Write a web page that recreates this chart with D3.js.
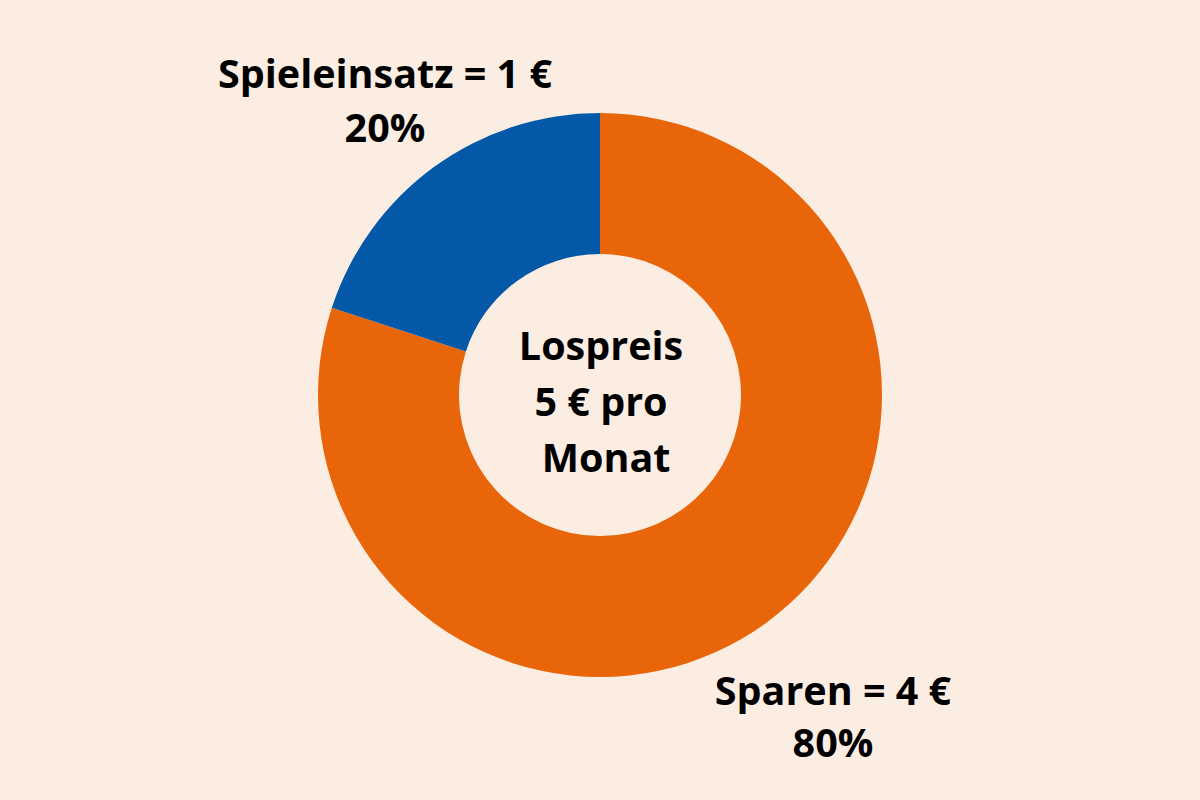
<!DOCTYPE html>
<html><head><meta charset="utf-8">
<script src="https://cdn.jsdelivr.net/npm/d3@7"></script>
<style>html,body{margin:0;padding:0;background:#fcede3;}svg{display:block;}</style>
</head><body>
<script>
const categories = ["Spieleinsatz", "Sparen"];
const values = [1, 4];
const percents = ["20%", "80%"];
const centerLines = ["Lospreis", "5 € pro", " Monat"];
const colors = ["#0359a7", "#e9650a"];

const W = 1200, H = 800;
const svg = d3.select("body").append("svg").attr("width", W).attr("height", H);
svg.append("rect").attr("width", W).attr("height", H).attr("fill", "#fcede3");

const cx = 600, cy = 395, rOuter = 282, rInner = 141;
const pie = d3.pie().sort(null).value(d => d.v).startAngle(0).endAngle(2 * Math.PI);
const data = [{c: categories[1], v: values[1], col: colors[1]}, {c: categories[0], v: values[0], col: colors[0]}];
const arc = d3.arc().innerRadius(rInner).outerRadius(rOuter);
const g = svg.append("g").attr("transform", `translate(${cx},${cy})`);
g.selectAll("path").data(pie(data)).join("path").attr("d", arc).attr("fill", d => d.data.col);

const font = "'Open Sans', sans-serif";
function lines(x, y0, arr, dy) {
  const t = svg.append("text").attr("text-anchor", "middle").attr("font-family", font)
    .attr("font-weight", 700).attr("font-size", 39.5).attr("fill", "#000").attr("xml:space", "preserve");
  arr.forEach((s, i) => t.append("tspan").attr("x", x).attr("y", y0 + i * dy).text(s));
}
lines(385, 88, [categories[0] + " = " + values[0] + " €", percents[0]], 54);
lines(833, 705, [categories[1] + " = " + values[1] + " €", percents[1]], 52);
lines(601, 360, centerLines, 56);
</script>
</body></html>
